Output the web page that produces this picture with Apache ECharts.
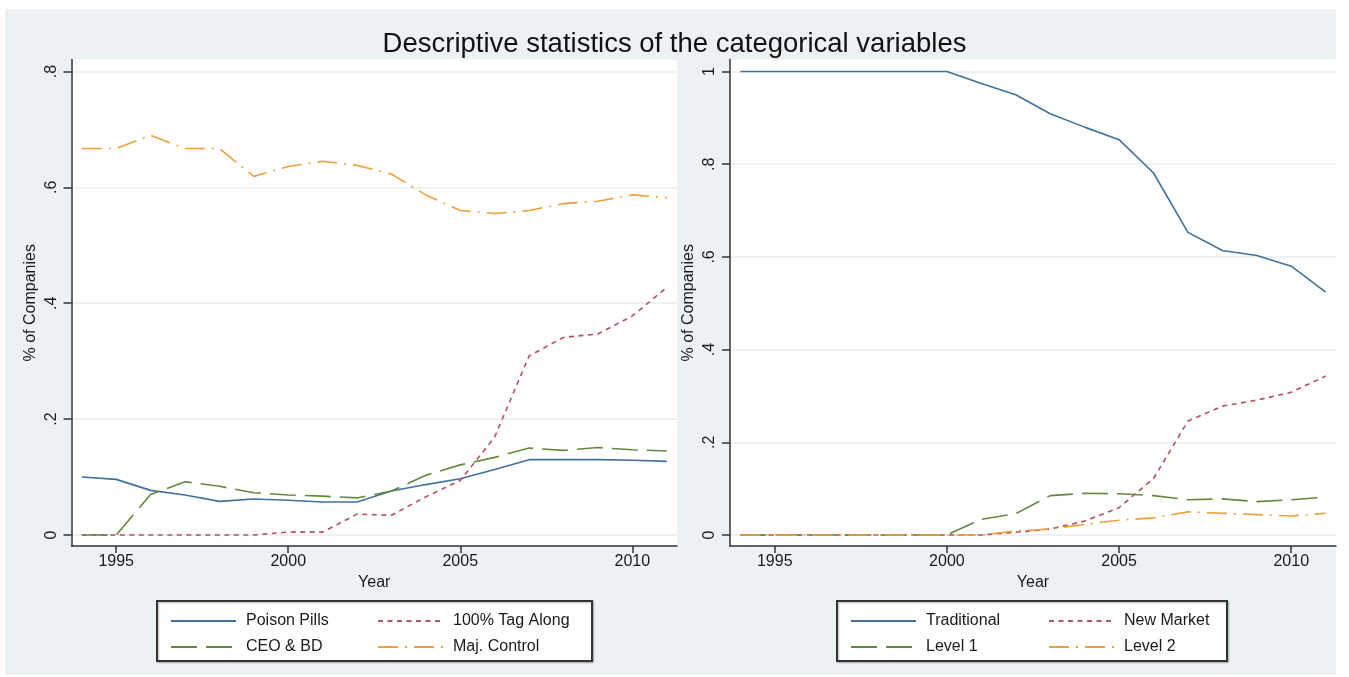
<!DOCTYPE html>
<html>
<head>
<meta charset="utf-8">
<title>Descriptive statistics of the categorical variables</title>
<script src="https://cdn.jsdelivr.net/npm/echarts@6/dist/echarts.min.js"></script>
<style>
    html, body { margin: 0; padding: 0; background: #fff; }
    #box { width: 1349px; height: 677px; }
</style>
</head>
<body>
<div id="box"></div>
<script>
// years on the x axis
var years = [1994, 1995, 1996, 1997, 1998, 1999, 2000, 2001, 2002, 2003, 2004, 2005, 2006, 2007, 2008, 2009, 2010, 2011];

// left panel
var poisonPills = [0.100, 0.096, 0.077, 0.069, 0.058, 0.062, 0.060, 0.057, 0.057, 0.076, 0.087, 0.097, 0.113, 0.130, 0.130, 0.130, 0.129, 0.127];
var tagAlong    = [0, 0, 0, 0, 0, 0, 0.005, 0.005, 0.036, 0.034, 0.066, 0.094, 0.169, 0.309, 0.341, 0.347, 0.378, 0.427];
var ceoBd       = [0, 0, 0.070, 0.092, 0.084, 0.073, 0.069, 0.067, 0.064, 0.076, 0.103, 0.121, 0.134, 0.150, 0.146, 0.151, 0.147, 0.145];
var majControl  = [0.667, 0.667, 0.690, 0.667, 0.667, 0.619, 0.636, 0.645, 0.638, 0.623, 0.587, 0.560, 0.555, 0.560, 0.572, 0.576, 0.587, 0.582];

// right panel
var traditional = [1, 1, 1, 1, 1, 1, 1, 0.974, 0.950, 0.909, 0.880, 0.853, 0.781, 0.653, 0.614, 0.603, 0.580, 0.524];
var newMarket   = [0, 0, 0, 0, 0, 0, 0, 0, 0.006, 0.013, 0.030, 0.059, 0.122, 0.246, 0.278, 0.291, 0.308, 0.343];
var level1      = [0, 0, 0, 0, 0, 0, 0, 0.034, 0.046, 0.085, 0.090, 0.089, 0.085, 0.076, 0.078, 0.072, 0.076, 0.082];
var level2      = [0, 0, 0, 0, 0, 0, 0, 0, 0.009, 0.013, 0.023, 0.032, 0.037, 0.050, 0.047, 0.044, 0.041, 0.047];

// tick values
var xTicks = [1995, 2000, 2005, 2010];
var yTicksLeft = [0, 0.2, 0.4, 0.6, 0.8];
var yTicksRight = [0, 0.2, 0.4, 0.6, 0.8, 1];

window.onload = function () {

    var myChart = echarts.init(document.getElementById('box'));
    var font = '"Liberation Sans", Arial, Helvetica, sans-serif';
    var ink = '#1a1a1a';

    var colors = {
        blue: '#3f719e',
        red: '#b4505c',
        green: '#63893f',
        orange: '#efa034'
    };

    function pairs(vals) {
        return years.map(function (y, i) {
            return [y, vals[i]];
        });
    }

    // Stata style tick labels: ".2" instead of "0.2"
    function stataLabel(v) {
        if (v === 0) return '0';
        if (v === 1) return '1';
        return String(Math.round(v * 10) / 10).replace(/^0/, '');
    }

    function xAxis(idx) {
        return {
            type: 'value',
            gridIndex: idx,
            min: 1993.7,
            max: 2011.3,
            name: 'Year',
            nameLocation: 'middle',
            nameGap: 27,
            nameTextStyle: { fontSize: 16, color: ink, fontFamily: font },
            axisLine: { show: true, onZero: false, lineStyle: { color: '#333', width: 1.5 } },
            axisTick: { show: true, length: 7, customValues: xTicks, lineStyle: { color: '#333', width: 1.5 } },
            axisLabel: {
                customValues: xTicks,
                fontSize: 16,
                color: ink,
                margin: 8,
                fontFamily: font,
                formatter: function (v) { return String(v); }
            },
            splitLine: { show: false }
        };
    }

    function yAxis(idx, min, max, ticks) {
        return {
            type: 'value',
            gridIndex: idx,
            min: min,
            max: max,
            name: '% of Companies',
            nameLocation: 'middle',
            nameGap: 33,
            nameTextStyle: { fontSize: 16, color: ink, fontFamily: font },
            axisLine: { show: true, onZero: false, lineStyle: { color: '#333', width: 1.5 } },
            axisTick: { show: true, length: 8, customValues: ticks, lineStyle: { color: '#333', width: 1.5 } },
            axisLabel: {
                customValues: ticks,
                rotate: 90,
                fontSize: 16,
                color: ink,
                margin: 12,
                fontFamily: font,
                formatter: stataLabel
            },
            splitLine: { show: true, lineStyle: { color: '#e6eef0', width: 1.5 } }
        };
    }

    function line(name, vals, color, dash, idx) {
        return {
            name: name,
            type: 'line',
            xAxisIndex: idx,
            yAxisIndex: idx,
            symbol: 'none',
            color: color,
            lineStyle: { color: color, width: 1.6, type: dash },
            emphasis: { disabled: true },
            data: pairs(vals)
        };
    }

    function legendCol(names, left) {
        return {
            data: names,
            orient: 'vertical',
            left: left,
            top: 608,
            itemWidth: 65,
            itemHeight: 16,
            itemGap: 10,
            itemStyle: { opacity: 0 },
            textStyle: { fontSize: 16, color: ink, fontFamily: font, padding: [0, 0, 0, 5] }
        };
    }

    // Stata line patterns
    var dashShort = [5, 4.5];
    var dashLong = [26, 9];
    var dashDot = [20, 7, 2, 7];

    var option = {
        backgroundColor: '#fff',
        animation: false,
        textStyle: { fontFamily: font },
        title: {
            text: 'Descriptive statistics of the categorical variables',
            left: 'center',
            top: 25,
            textStyle: { fontSize: 27.5, fontWeight: 'normal', color: '#111', fontFamily: font }
        },
        graphic: [{
            type: 'rect',
            z: -10,
            silent: true,
            shape: { x: 5, y: 9, width: 1331, height: 666 },
            style: { fill: '#ecf2f3' }
        }, {
            type: 'rect',
            z: 3,
            silent: true,
            shape: { x: 157, y: 601, width: 435, height: 60 },
            style: { fill: '#fff', stroke: '#333', lineWidth: 2, shadowBlur: 2, shadowColor: 'rgba(0,0,0,0.25)', shadowOffsetX: 1, shadowOffsetY: 1 }
        }, {
            type: 'rect',
            z: 3,
            silent: true,
            shape: { x: 837, y: 601, width: 390, height: 60 },
            style: { fill: '#fff', stroke: '#333', lineWidth: 2, shadowBlur: 2, shadowColor: 'rgba(0,0,0,0.25)', shadowOffsetX: 1, shadowOffsetY: 1 }
        }],
        legend: [
            legendCol(['Poison Pills', 'CEO & BD'], 165),
            legendCol(['100% Tag Along', 'Maj. Control'], 372),
            legendCol(['Traditional', 'Level 1'], 845),
            legendCol(['New Market', 'Level 2'], 1043)
        ],
        grid: [{
            left: 71.5, top: 59.5, width: 605.5, height: 486.5,
            show: true, backgroundColor: '#fff', borderWidth: 0
        }, {
            left: 730, top: 59.5, width: 606, height: 486.5,
            show: true, backgroundColor: '#fff', borderWidth: 0
        }],
        xAxis: [xAxis(0), xAxis(1)],
        yAxis: [
            yAxis(0, -0.019, 0.8207, yTicksLeft),
            yAxis(1, -0.0237, 1.0259, yTicksRight)
        ],
        series: [
            line('Poison Pills', poisonPills, colors.blue, 'solid', 0),
            line('100% Tag Along', tagAlong, colors.red, dashShort, 0),
            line('CEO & BD', ceoBd, colors.green, dashLong, 0),
            line('Maj. Control', majControl, colors.orange, dashDot, 0),
            line('Traditional', traditional, colors.blue, 'solid', 1),
            line('New Market', newMarket, colors.red, dashShort, 1),
            line('Level 1', level1, colors.green, dashLong, 1),
            line('Level 2', level2, colors.orange, dashDot, 1)
        ]
    };
    myChart.setOption(option);
    window.addEventListener('resize', function () {
        myChart.resize();
    });
};
</script>
</body>
</html>
